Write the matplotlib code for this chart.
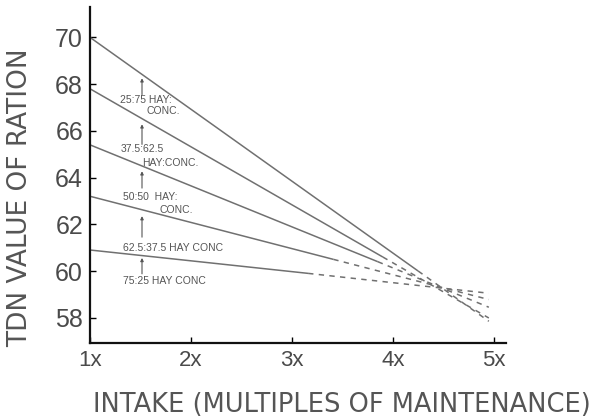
import matplotlib
matplotlib.use("Agg")
import matplotlib.pyplot as plt

plt.rcParams['font.family'] = ['Liberation Sans Narrow', 'Liberation Sans', 'DejaVu Sans']

# TDN value of ration at 1x maintenance, for each hay:concentrate ratio
ratios = ['25:75', '37.5:62.5', '50:50', '62.5:37.5', '75:25']
tdn_at_1x = [70.0, 67.8, 65.4, 63.2, 60.9]
# where the solid (measured) part ends
solid_end_x = [4.25, 3.90, 3.85, 3.41, 3.16]
solid_end_y = [60.0, 60.6, 60.4, 60.5, 59.9]
# dashed (extrapolated) part ends near 5x
dash_end_x = [4.95, 4.95, 4.95, 4.95, 4.95]
dash_end_y = [57.85, 57.99, 58.45, 58.78, 59.05]

x_ticks = [1, 2, 3, 4, 5]
x_ticklabels = ['1x', '2x', '3x', '4x', '5x']
y_ticks = [58, 60, 62, 64, 66, 68, 70]

# label text under each line
line_labels = [
    [('25:75 HAY:', 1.30, 67.31), ('CONC.', 1.56, 66.84)],
    [('37.5:62.5', 1.30, 65.21), ('HAY:CONC.', 1.52, 64.62)],
    [('50:50  HAY:', 1.33, 63.16), ('CONC.', 1.69, 62.61)],
    [('62.5:37.5 HAY CONC', 1.33, 60.98)],
    [('75:25 HAY CONC', 1.33, 59.57)],
]
arrow_head = [68.25, 66.28, 64.27, 62.35, 60.56]
arrow_tail = [67.55, 65.42, 63.55, 61.45, 59.88]
arrow_x = 1.515

fig = plt.figure(figsize=(6.03, 4.2), dpi=100)
ax = fig.add_axes([90/603, 1-343/420, 416/603, 336/420])

line_col = '#707070'
for i in range(len(ratios)):
    ax.plot([1, solid_end_x[i]], [tdn_at_1x[i], solid_end_y[i]],
            color=line_col, lw=1.1, solid_capstyle='butt')
    ax.plot([solid_end_x[i], dash_end_x[i]], [solid_end_y[i], dash_end_y[i]],
            color=line_col, lw=1.1, linestyle=(0, (3.5, 3.5)))
    ax.annotate('', xy=(arrow_x, arrow_head[i]), xytext=(arrow_x, arrow_tail[i]),
                arrowprops=dict(arrowstyle='-|>', color='#555', lw=0.8,
                                mutation_scale=4.5, shrinkA=0, shrinkB=0))
    for txt, tx, ty in line_labels[i]:
        ax.text(tx, ty, txt, fontsize=7.5, color='#555', ha='left', va='center')

ax.set_xlim(1, 5.12)
ax.set_ylim(56.92, 71.3)
ax.set_xticks(x_ticks)
ax.set_xticklabels(x_ticklabels)
ax.set_yticks(y_ticks)

for s in ['top', 'right']:
    ax.spines[s].set_visible(False)
for s in ['left', 'bottom']:
    ax.spines[s].set_linewidth(1.6)
    ax.spines[s].set_color('#111')

ax.tick_params(axis='y', direction='in', length=4, width=1, pad=5,
               labelsize=18, labelcolor='#4a4a4a')
ax.tick_params(axis='x', direction='in', length=4, width=1, pad=5,
               labelsize=16, labelcolor='#4a4a4a')

fig.text(20/603, 1-198/420, 'TDN VALUE OF RATION', rotation=90,
         ha='center', va='center', fontsize=19, color='#555',
         family=['DejaVu Sans'])
fig.text(342/603, 1-405/420, 'INTAKE (MULTIPLES OF MAINTENANCE)',
         ha='center', va='center', fontsize=18.5, color='#555',
         family=['DejaVu Sans'])

fig.savefig('out.png', dpi=100)
